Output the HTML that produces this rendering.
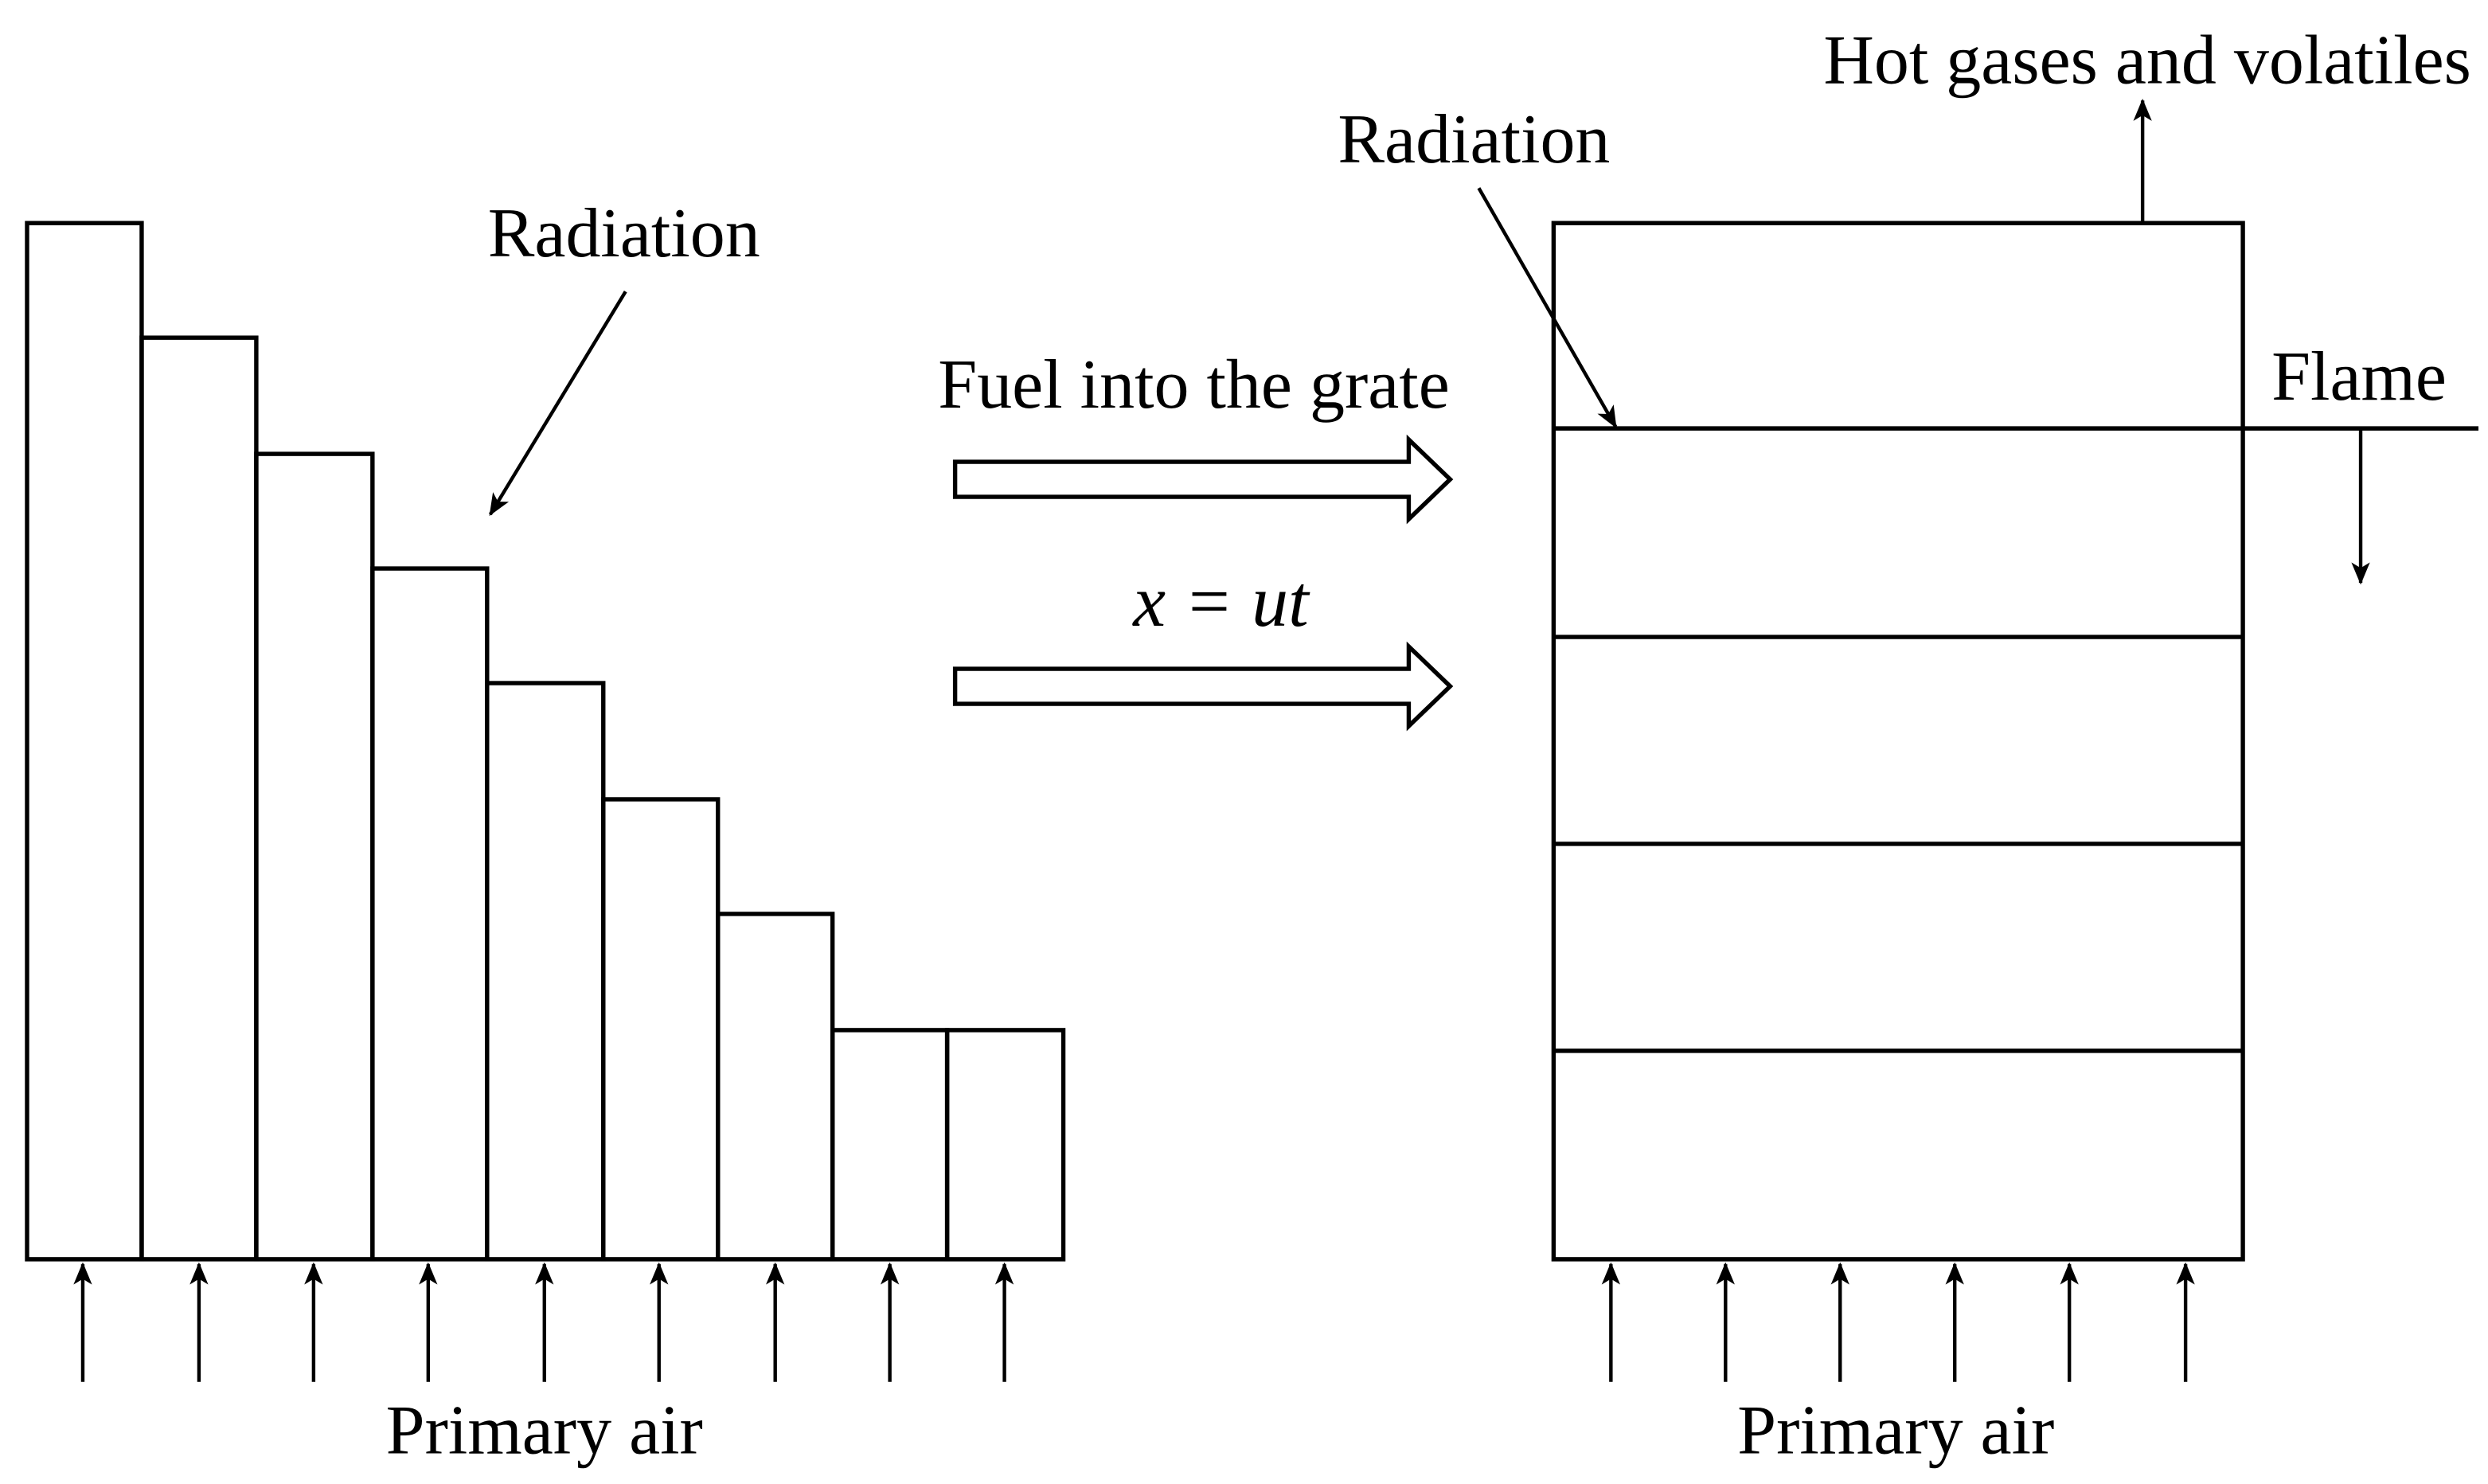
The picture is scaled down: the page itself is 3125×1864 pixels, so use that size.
<!DOCTYPE html>
<html><head><style>html,body{margin:0;padding:0;background:#fff}svg{display:block}</style></head>
<body>
<svg width="3125" height="1864" viewBox="0 0 1563 932" xmlns="http://www.w3.org/2000/svg">
<defs>
<marker id="b" viewBox="0 0 12 12" refX="11" refY="6" markerWidth="14" markerHeight="14" orient="auto" markerUnits="userSpaceOnUse"><path d="M0,1 L12,6 L0,11 L3,6 Z" fill="#000"/></marker></defs>
<g fill="none" stroke="#000" stroke-width="2.7">
<rect x="17" y="140" width="72" height="651"/>
<rect x="89" y="212" width="72" height="579"/>
<rect x="161" y="285" width="73" height="506"/>
<rect x="234" y="357" width="72" height="434"/>
<rect x="306" y="429" width="73" height="362"/>
<rect x="379" y="502" width="72" height="289"/>
<rect x="451" y="574" width="72" height="217"/>
<rect x="523" y="647" width="72" height="144"/>
<rect x="595" y="647" width="73" height="144"/>
<rect x="976" y="140" width="433" height="651"/>
<line x1="976" y1="269" x2="1557" y2="269"/>
<line x1="976" y1="400" x2="1409" y2="400"/>
<line x1="976" y1="530" x2="1409" y2="530"/>
<line x1="976" y1="660" x2="1409" y2="660"/>
<path d="M600,290 L885,290 L885,276 L911,301 L885,326 L885,312 L600,312 Z"/>
<path d="M600,420 L885,420 L885,406 L911,431 L885,456 L885,442 L600,442 Z"/>
</g>
<g stroke="#000" stroke-width="2.2" marker-end="url(#b)">
<line x1="52" y1="868" x2="52" y2="794"/>
<line x1="125" y1="868" x2="125" y2="794"/>
<line x1="197" y1="868" x2="197" y2="794"/>
<line x1="269" y1="868" x2="269" y2="794"/>
<line x1="342" y1="868" x2="342" y2="794"/>
<line x1="414" y1="868" x2="414" y2="794"/>
<line x1="487" y1="868" x2="487" y2="794"/>
<line x1="559" y1="868" x2="559" y2="794"/>
<line x1="631" y1="868" x2="631" y2="794"/>
<line x1="1012" y1="868" x2="1012" y2="794"/>
<line x1="1084" y1="868" x2="1084" y2="794"/>
<line x1="1156" y1="868" x2="1156" y2="794"/>
<line x1="1228" y1="868" x2="1228" y2="794"/>
<line x1="1300" y1="868" x2="1300" y2="794"/>
<line x1="1373" y1="868" x2="1373" y2="794"/>
<line x1="393" y1="183" x2="308" y2="323"/>
<line x1="929" y1="118" x2="1015" y2="268"/>
<line x1="1346" y1="139" x2="1346" y2="63"/>
<line x1="1483" y1="270" x2="1483" y2="366"/>
</g>
<g font-family="Liberation Serif, serif" font-size="44" fill="#000" text-anchor="middle">
<text x="342" y="913">Primary air</text>
<text x="1191" y="913">Primary air</text>
<text x="392" y="161">Radiation</text>
<text x="926" y="102">Radiation</text>
<text x="750" y="256">Fuel into the grate</text>
<text x="1349" y="52">Hot gases and volatiles</text>
<text x="1482" y="251">Flame</text>
<text x="767" y="393" font-style="italic" font-size="46">x = ut</text>
</g>
</svg>
</body></html>
